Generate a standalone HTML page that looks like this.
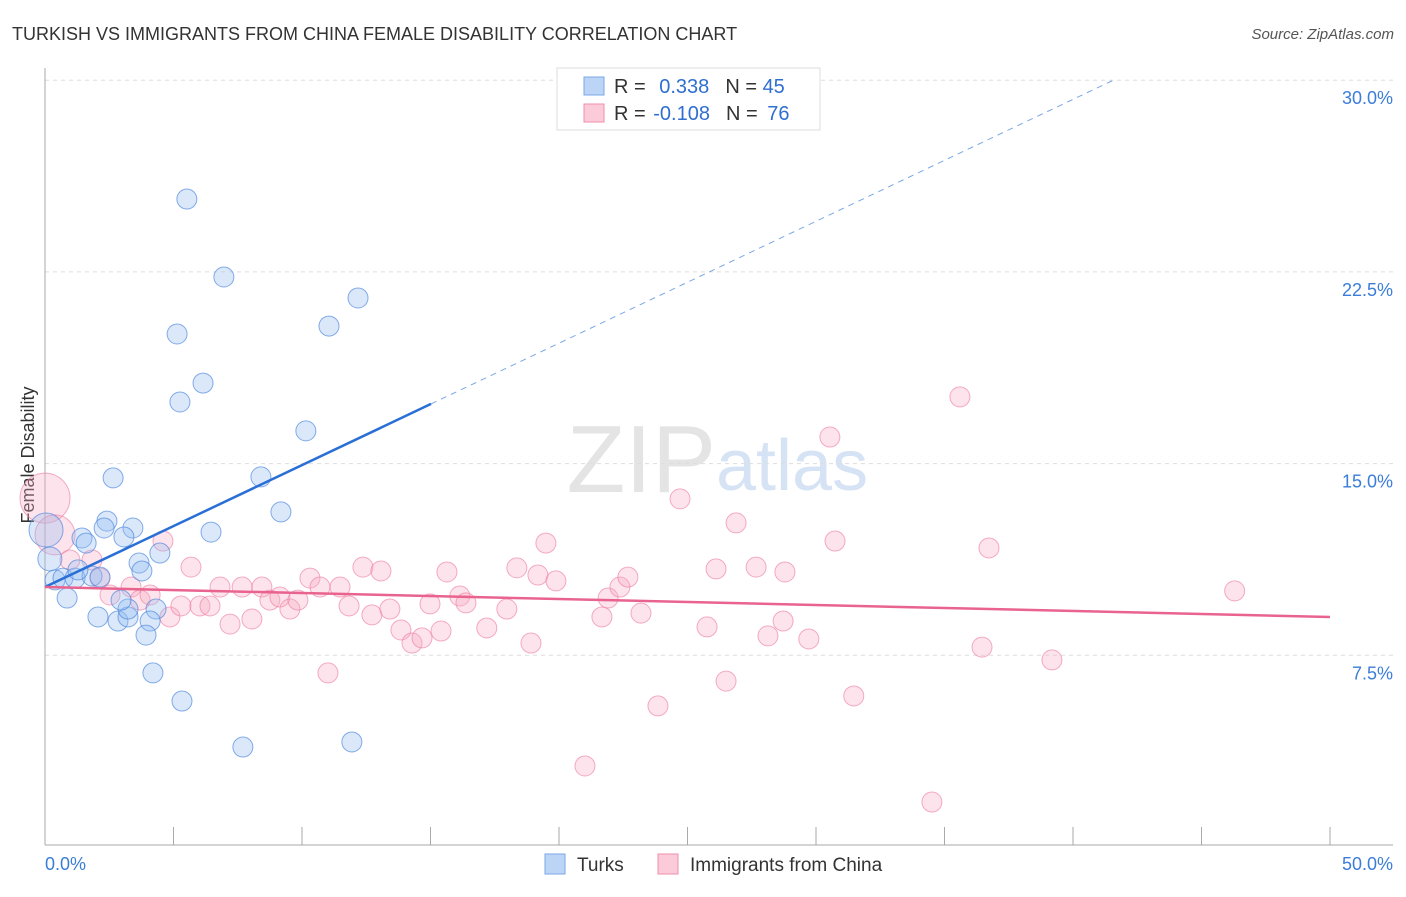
<!DOCTYPE html>
<html><head><meta charset="utf-8"><style>
body{margin:0;background:#fff;font-family:"Liberation Sans",sans-serif}
svg text{font-family:"Liberation Sans",sans-serif}
</style></head><body>
<svg id="c" width="1406" height="892">
<text x="12" y="40" font-size="18" fill="#333">TURKISH VS IMMIGRANTS FROM CHINA FEMALE DISABILITY CORRELATION CHART</text>
<text x="1394" y="39" font-size="15" fill="#555" text-anchor="end" font-style="italic">Source: ZipAtlas.com</text>
<text x="716" y="492" font-size="96" fill="#e4e4e4" text-anchor="end" font-family="Liberation Serif">ZIP</text>
<text x="716" y="490" font-size="72" fill="#d6e3f5">atlas</text>
<text transform="translate(34,455) rotate(-90)" font-size="18" fill="#333" text-anchor="middle">Female Disability</text>
<g id="grid"></g><g id="pts"></g><g id="lines"></g>
<g>
<rect x="557" y="68" width="263" height="62" fill="#fff" stroke="#ddd"/>
<rect x="584" y="77" width="20" height="18" fill="#bcd4f6" stroke="#7aa7e8"/>
<rect x="584" y="104" width="20" height="18" fill="#fbcbd9" stroke="#f08fad"/>
<text x="614" y="93" font-size="20" fill="#333">R = <tspan fill="#2f6fd1" dx="8">0.338</tspan><tspan dx="16">N = </tspan><tspan fill="#2f6fd1">45</tspan></text>
<text x="614" y="120" font-size="20" fill="#333">R = <tspan fill="#2f6fd1" dx="2">-0.108</tspan><tspan dx="16">N = </tspan><tspan fill="#2f6fd1" dx="4">76</tspan></text>
</g>
<g>
<rect x="545" y="854" width="20" height="20" fill="#bcd4f6" stroke="#7aa7e8"/>
<text x="577" y="871" font-size="19" fill="#333">Turks</text>
<rect x="658" y="854" width="20" height="20" fill="#fbcbd9" stroke="#f08fad"/>
<text x="690" y="871" font-size="19" fill="#333">Immigrants from China</text>
</g>
</svg>
<script>
const blueX=[5.52,6.96,12.18,11.05,5.14,6.15,5.25,10.15,2.65,8.40,9.18,2.41,3.42,2.30,6.46,3.07,1.44,1.60,4.47,3.66,3.77,0.19,0.04,0.39,0.70,1.17,1.83,2.14,1.28,0.86,2.06,2.84,3.23,4.32,3.23,2.96,4.09,3.93,4.20,5.33,7.70,11.94];
const blueY=[25.35,22.30,21.48,20.38,20.07,18.15,17.41,16.28,14.44,14.48,13.11,12.75,12.48,12.48,12.32,12.13,12.09,11.89,11.50,11.11,10.80,11.27,12.40,10.45,10.52,10.52,10.60,10.56,10.84,9.74,9.00,8.84,9.00,9.31,9.31,9.66,8.84,8.29,6.81,5.71,3.91,4.11];
const pinkX=[0,0.39,0.97,1.83,2.14,3.35,2.53,3.70,4.09,4.59,4.86,5.29,5.68,6.03,6.42,6.81,7.20,7.67,8.05,8.44,8.75,9.14,9.53,9.84,10.31,10.70,11.01,11.48,11.83,12.37,12.72,13.07,13.42,13.85,14.28,14.67,14.98,15.41,15.64,16.14,16.38,17.19,17.97,18.36,18.91,19.18,19.49,19.88,21.01,21.67,21.91,22.37,22.68,23.19,23.85,24.71,25.76,26.11,26.50,26.89,27.67,28.13,28.72,28.79,29.72,30.54,30.74,31.47,34.51,35.60,36.46,36.73,39.18,46.29];
const pinkY=[13.65,12.21,11.23,11.23,10.52,10.17,9.86,9.66,9.86,11.97,9.00,9.43,10.95,9.43,9.43,10.17,8.72,10.17,8.92,10.17,9.66,9.78,9.31,9.66,10.52,10.17,6.81,10.17,9.43,10.95,9.08,10.80,9.31,8.49,7.98,8.18,9.51,8.45,10.76,9.82,9.55,8.57,9.31,10.92,7.98,10.64,11.89,10.41,3.17,9.00,9.74,10.17,10.56,9.15,5.52,13.62,8.61,10.88,6.49,12.68,10.95,8.26,8.84,10.76,8.14,16.04,11.97,5.91,1.76,17.61,7.82,11.70,7.32,10.02];
const yTicks=[7.5,15.0,22.5,30.0];
const xTicks=[0,5,10,15,20,25,30,35,40,45,50];
const blueLine=[10.17,0.477,15.02]; // intercept, slope, solid end x
const pinkLine=[10.17,-0.0234];
const X=v=>45+v/50*1285, Y=v=>847-v*25.56;
const NS='http://www.w3.org/2000/svg';
function mk(p,t,a){const e=document.createElementNS(NS,t);for(const k in a)e.setAttribute(k,a[k]);p.appendChild(e);return e;}
const g=document.getElementById('grid');
yTicks.forEach(t=>{
 const l=mk(g,'line',{x1:45,x2:1393,y1:Y(t),y2:Y(t),stroke:'#ddd','stroke-dasharray':'4,4'});
 
 
 const tx=mk(g,'text',{x:1393,y:Y(t)+24,'font-size':18,fill:'#3b7dd8','text-anchor':'end'});
 tx.textContent=t.toFixed(1)+'%';
 
 
});
mk(g,'line',{x1:45,x2:45,y1:68,y2:845,stroke:'#aaa'});
mk(g,'line',{x1:45,x2:1393,y1:845,y2:845,stroke:'#aaa'});
xTicks.forEach(t=>{const l=mk(g,'line',{x1:X(t),x2:X(t),y1:827,y2:845,stroke:'#aaa'});
 
 });
[[0,'start',45],[50,'end',1393]].forEach(([v,a,x])=>{const t=mk(g,'text',{x:x,y:870,'font-size':18,fill:'#3b7dd8','text-anchor':a});t.textContent=v.toFixed(1)+'%';
 
 });
const P=document.getElementById('pts');
pinkX.forEach((x,i)=>{const r=i==0?25:(i==1?20:10);
 const c=mk(P,'circle',{cx:X(x),cy:Y(pinkY[i]),r:r,fill:'rgba(248,170,195,0.33)',stroke:'rgba(236,120,160,0.6)'});
 
 });
blueX.forEach((x,i)=>{const r=i==22?17:(i==21?12:10);
 const c=mk(P,'circle',{cx:X(x),cy:Y(blueY[i]),r:r,fill:'rgba(150,190,240,0.35)',stroke:'rgba(70,130,220,0.65)'});
 
 });
const L=document.getElementById('lines');
const bY=x=>blueLine[0]+blueLine[1]*x;
const b1=mk(L,'line',{x1:X(0),y1:Y(bY(0)),x2:X(blueLine[2]),y2:Y(bY(blueLine[2])),stroke:'#2a6fd6','stroke-width':2.5});


const xe=(30-blueLine[0])/blueLine[1];
const b2=mk(L,'line',{x1:X(blueLine[2]),y1:Y(bY(blueLine[2])),x2:X(xe),y2:Y(30),stroke:'#7aa7e8','stroke-width':1,'stroke-dasharray':'6,5'});


const p1=mk(L,'line',{x1:X(0),y1:Y(pinkLine[0]),x2:X(50),y2:Y(pinkLine[0]+pinkLine[1]*50),stroke:'#e9638f','stroke-width':2.5});


</script>
</body></html>
